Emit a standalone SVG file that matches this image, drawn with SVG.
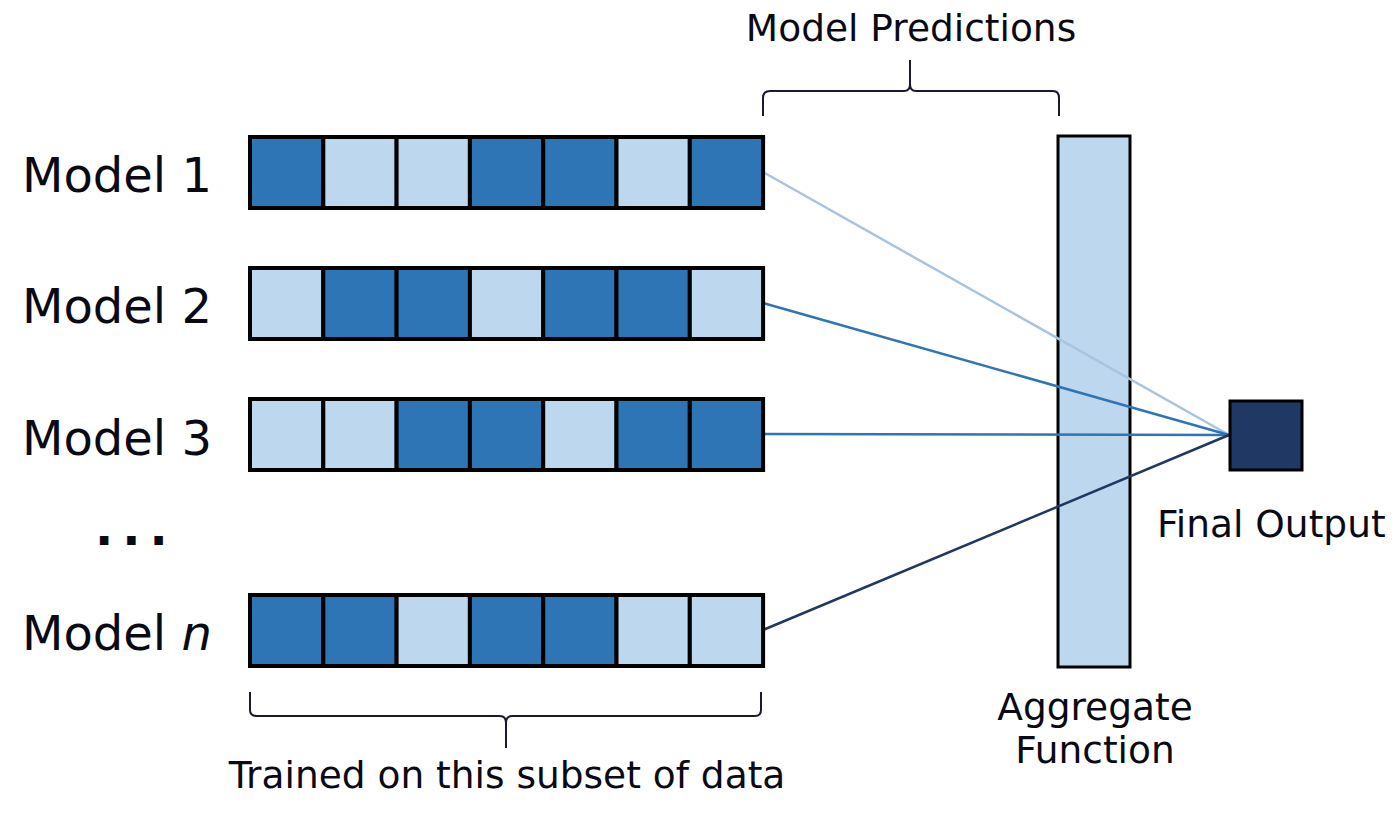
<svg xmlns="http://www.w3.org/2000/svg" width="1400" height="815" viewBox="0 0 1400 815">
<style>
.t{font-family:"DejaVu Sans","Liberation Sans",sans-serif;fill:#0a0a14}
.lbl{font-size:48px}
.sm{font-size:37.5px}
.d{fill:#2E75B6;stroke:#000;stroke-width:4}
.l{fill:#BDD7EE;stroke:#000;stroke-width:4}
.br{fill:none;stroke:#1a1a2e;stroke-width:2}
.cn{fill:none;stroke-width:2.5}
</style>
<defs>
<g id="D"><rect class="d" width="73.3" height="71"/></g>
<g id="L"><rect class="l" width="73.3" height="71"/></g>
</defs>
<rect width="1400" height="815" fill="#fff"/>

<g id="aggregate">
<rect x="1058" y="136" width="72" height="531" fill="#BDD7EE" stroke="#000" stroke-width="3"/>
<text class="t sm" x="1095" y="720" text-anchor="middle">Aggregate</text>
<text class="t sm" x="1095" y="763" text-anchor="middle">Function</text>
</g>

<g id="connectors">
<line class="cn" x1="763" y1="172" x2="1229" y2="435" stroke="#A9C4E0"/>
<line class="cn" x1="763" y1="303" x2="1229" y2="435" stroke="#2E75B6"/>
<line class="cn" x1="763" y1="434" x2="1229" y2="435" stroke="#2E75B6"/>
<line class="cn" x1="763" y1="630" x2="1229" y2="435" stroke="#203864"/>
</g>

<g id="model1">
<text class="t lbl" x="22" y="192">Model 1</text>
<use href="#D" x="250" y="137"/><use href="#L" x="323.3" y="137"/><use href="#L" x="396.6" y="137"/><use href="#D" x="469.9" y="137"/><use href="#D" x="543.2" y="137"/><use href="#L" x="616.5" y="137"/><use href="#D" x="689.8" y="137"/>
</g>
<g id="model2">
<text class="t lbl" x="22" y="323">Model 2</text>
<use href="#L" x="250" y="268"/><use href="#D" x="323.3" y="268"/><use href="#D" x="396.6" y="268"/><use href="#L" x="469.9" y="268"/><use href="#D" x="543.2" y="268"/><use href="#D" x="616.5" y="268"/><use href="#L" x="689.8" y="268"/>
</g>
<g id="model3">
<text class="t lbl" x="22" y="455">Model 3</text>
<use href="#L" x="250" y="399"/><use href="#L" x="323.3" y="399"/><use href="#D" x="396.6" y="399"/><use href="#D" x="469.9" y="399"/><use href="#L" x="543.2" y="399"/><use href="#D" x="616.5" y="399"/><use href="#D" x="689.8" y="399"/>
</g>
<g id="dots">
<text class="t lbl" x="95" y="545" font-weight="bold" letter-spacing="9">...</text>
</g>
<g id="modeln">
<text class="t lbl" x="22" y="650">Model <tspan font-style="italic">n</tspan></text>
<use href="#D" x="250" y="595"/><use href="#D" x="323.3" y="595"/><use href="#L" x="396.6" y="595"/><use href="#D" x="469.9" y="595"/><use href="#D" x="543.2" y="595"/><use href="#L" x="616.5" y="595"/><use href="#L" x="689.8" y="595"/>
</g>

<g id="final">
<rect x="1230" y="401" width="72" height="69" fill="#203864" stroke="#000" stroke-width="3"/>
<text class="t sm" x="1157" y="537">Final Output</text>
</g>

<g id="brace-top">
<path class="br" d="M763 116 V98 Q763 91 770 91 H904 Q910 91 910 84 V60 M910 84 Q910 91 916 91 H1053 Q1059 91 1059 98 V116"/>
<text class="t sm" x="911" y="41" text-anchor="middle">Model Predictions</text>
</g>

<g id="brace-bottom">
<path class="br" d="M250 692 V710 Q250 716 257 716 H500 Q506 716 506 723 V748 M506 723 Q506 716 512 716 H755 Q761 716 761 710 V692"/>
<text class="t sm" x="507" y="788" text-anchor="middle">Trained on this subset of data</text>
</g>
</svg>
